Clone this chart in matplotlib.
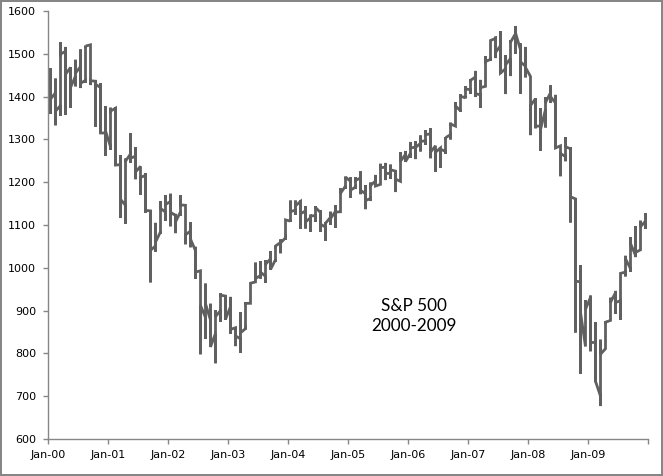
import matplotlib
matplotlib.use("Agg")
import matplotlib.pyplot as plt

# S&P 500 daily closes collapsed per month (Excel date axis, base unit = months)
# per month: first close, lowest close, highest close, last close
tick_labels = ["Jan-00", "Jan-01", "Jan-02", "Jan-03", "Jan-04",
               "Jan-05", "Jan-06", "Jan-07", "Jan-08", "Jan-09", ""]

month_first = [
    1455, 1409, 1379, 1506, 1468, 1448, 1470, 1438, 1521, 1436, 1421, 1315,
    1283, 1373, 1241, 1146, 1266, 1261, 1237, 1216, 1133, 1051, 1084, 1130,
    1155, 1122, 1131, 1146, 1086, 1040, 993, 884, 878, 847, 900, 934,
    909, 860, 834, 858, 917, 967, 982, 980, 1021, 1019, 1059, 1070,
    1109, 1135, 1155, 1133, 1117, 1122, 1129, 1095, 1118, 1132, 1131, 1191,
    1202, 1189, 1210, 1173, 1162, 1203, 1195, 1235, 1221, 1226, 1202, 1265,
    1268, 1282, 1291, 1297, 1313, 1285, 1280, 1272, 1311, 1331, 1367, 1397,
    1416, 1446, 1404, 1424, 1487, 1536, 1519, 1465, 1489, 1547, 1509, 1471,
    1447, 1395, 1331, 1370, 1409, 1385, 1285, 1260, 1278, 1161, 967, 816,
    931, 825, 700, 811, 877, 942, 923, 990, 998, 1029, 1042, 1109,
]
month_low = [
    1360, 1333, 1355, 1357, 1374, 1424, 1420, 1432, 1427, 1329, 1315, 1262,
    1276, 1240, 1117, 1103, 1245, 1207, 1171, 1129, 966, 1038, 1080, 1110,
    1097, 1081, 1122, 1055, 1048, 974, 798, 834, 815, 777, 874, 879,
    846, 817, 801, 856, 917, 967, 975, 965, 996, 1014, 1034, 1066,
    1108, 1124, 1091, 1092, 1084, 1107, 1084, 1063, 1100, 1094, 1131, 1185,
    1164, 1184, 1172, 1137, 1156, 1189, 1195, 1205, 1208, 1177, 1202, 1248,
    1257, 1254, 1272, 1287, 1256, 1224, 1234, 1266, 1300, 1334, 1364, 1396,
    1407, 1399, 1374, 1424, 1484, 1490, 1455, 1406, 1448, 1500, 1407, 1445,
    1310, 1326, 1273, 1328, 1385, 1279, 1214, 1249, 1106, 849, 752, 816,
    805, 733, 677, 811, 878, 893, 879, 980, 991, 1025, 1042, 1091,
]
month_high = [
    1466, 1442, 1527, 1516, 1469, 1486, 1510, 1519, 1521, 1438, 1431, 1378,
    1374, 1374, 1263, 1255, 1314, 1282, 1236, 1221, 1134, 1105, 1156, 1170,
    1173, 1126, 1170, 1146, 1106, 1049, 990, 963, 916, 901, 940, 935,
    932, 861, 896, 920, 964, 1012, 1015, 1018, 1039, 1052, 1066, 1112,
    1157, 1157, 1157, 1144, 1124, 1144, 1135, 1107, 1131, 1146, 1186, 1213,
    1211, 1212, 1225, 1193, 1199, 1217, 1243, 1245, 1241, 1228, 1270, 1273,
    1294, 1296, 1309, 1321, 1326, 1284, 1280, 1305, 1339, 1387, 1405, 1424,
    1440, 1460, 1439, 1494, 1530, 1540, 1553, 1497, 1531, 1565, 1524, 1516,
    1447, 1396, 1373, 1399, 1426, 1404, 1284, 1305, 1281, 1163, 1006, 924,
    935, 873, 832, 875, 930, 946, 987, 1028, 1071, 1097, 1110, 1128,
]
month_last = [
    1394, 1366, 1499, 1452, 1421, 1455, 1431, 1518, 1437, 1429, 1315, 1320,
    1366, 1240, 1160, 1249, 1256, 1224, 1211, 1134, 1041, 1060, 1139, 1148,
    1130, 1107, 1147, 1077, 1067, 990, 912, 916, 815, 886, 936, 880,
    856, 841, 848, 917, 964, 975, 990, 1008, 996, 1051, 1058, 1112,
    1131, 1145, 1126, 1107, 1121, 1141, 1102, 1104, 1115, 1130, 1174, 1212,
    1181, 1204, 1181, 1157, 1192, 1191, 1234, 1220, 1229, 1207, 1249, 1248,
    1280, 1281, 1295, 1311, 1270, 1270, 1277, 1304, 1336, 1378, 1401, 1418,
    1438, 1407, 1421, 1482, 1531, 1503, 1455, 1474, 1527, 1549, 1481, 1468,
    1379, 1331, 1323, 1386, 1400, 1280, 1267, 1283, 1166, 969, 896, 903,
    826, 735, 798, 873, 919, 919, 987, 1021, 1057, 1036, 1096, 1115,
]

# every value of a month sits on the same x, like the original excel chart
xs = []
ys = []
for i in range(len(month_first)):
    for v in (month_first[i], month_low[i], month_high[i], month_last[i]):
        xs.append(i + 0.5)
        ys.append(v)

fig = plt.figure(figsize=(6.63, 4.76), dpi=100)
fig.patch.set_edgecolor('#868686')
fig.patch.set_linewidth(1.5)
ax = fig.add_axes([48 / 663, 37 / 476, 600 / 663, 428 / 476])

ax.plot(xs, ys, color='#606060', lw=2.0, solid_joinstyle='miter')

ax.set_xlim(0, 120)
ax.set_ylim(600, 1600)
ax.set_yticks(range(600, 1601, 100))
ax.set_xticks(range(0, 121, 12))
ax.set_xticklabels(tick_labels)

for s in ['top', 'right']:
    ax.spines[s].set_visible(False)
for s in ['left', 'bottom']:
    ax.spines[s].set_color('#868686')
    ax.spines[s].set_linewidth(1)
ax.tick_params(axis='both', colors='#868686', labelcolor='black', labelsize=8,
               length=3.5, width=1)
ax.tick_params(axis='x', pad=4.5)
ax.tick_params(axis='y', pad=5)

ax.text(73.2, 887, "S&P 500\n2000-2009", ha='center', va='center',
        fontsize=12.3, family='Lato', linespacing=1.3)

fig.savefig("out.png", dpi=100, edgecolor=fig.get_edgecolor())
